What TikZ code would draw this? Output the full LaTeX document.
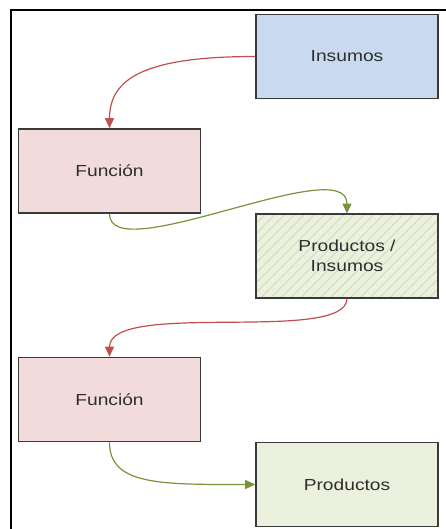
\documentclass[tikz,border=0pt]{standalone}
\usepackage{fontspec}
\setmainfont{Liberation Sans}
\usetikzlibrary{arrows.meta,patterns.meta,calc}

\definecolor{boxline}{HTML}{3A3A3A}
\definecolor{bluefill}{HTML}{C9DAF0}
\definecolor{pinkfill}{HTML}{F2DCDB}
\definecolor{greenfill}{HTML}{EBF1DE}
\definecolor{hatchgreen}{HTML}{CFDBB8}
\definecolor{redarrow}{HTML}{C0504D}
\definecolor{greenarrow}{HTML}{77933C}
\definecolor{labeltext}{HTML}{2E2E2E}

\newcommand{\widetext}[1]{\scalebox{1.2}[1]{#1}}

\tikzset{
  blockbox/.style={draw=boxline, line width=1.6pt, rectangle,
    minimum width=182pt, minimum height=84pt, inner sep=0pt,
    text=labeltext, align=center, font=\fontsize{16}{21}\selectfont},
  inputbox/.style={blockbox, fill=bluefill},
  funcbox/.style={blockbox, fill=pinkfill},
  outbox/.style={blockbox, fill=greenfill},
  mixedbox/.style={blockbox, preaction={fill=greenfill},
    pattern={Lines[angle=45,distance=7pt,line width=0.9pt]},
    pattern color=hatchgreen},
  flowred/.style={draw=redarrow, line width=1.2pt,
    -{Triangle[length=10pt,width=9pt,fill=redarrow]}},
  flowgreen/.style={draw=greenarrow, line width=1.2pt,
    -{Triangle[length=10pt,width=9pt,fill=greenarrow]}},
}

\begin{document}
\begin{tikzpicture}[x=1pt,y=-1pt]
  \useasboundingbox (0,0) rectangle (445,529);

  % outer frame (runs past the right and bottom edges)
  \draw[line width=2.5pt, black] (11,540) -- (11,10) -- (460,10);

  % blocks
  \node[inputbox] (ins1) at (347,56.5) {\widetext{Insumos}};
  \node[funcbox]  (fun1) at (109.5,171) {\widetext{Función}};
  \node[mixedbox] (mix)  at (347,256) {\widetext{Productos /}\\[-1pt]\widetext{Insumos}};
  \node[funcbox]  (fun2) at (109.5,399.5) {\widetext{Función}};
  \node[outbox]   (out)  at (347,484.5) {\widetext{Productos}};

  % connectors
  \draw[flowred] (ins1.west)
    .. controls ($(ins1.west)+(-110,0)$) and ($(fun1.north)+(0,-50)$) .. (fun1.north);
  \draw[flowgreen] (fun1.south)
    .. controls ($(fun1.south)+(0,56)$) and ($(mix.north)+(0,-63)$) .. (mix.north);
  \draw[flowred] (mix.south)
    .. controls ($(mix.south)+(0,46)$) and ($(fun2.north)+(0,-57)$) .. (fun2.north);
  \draw[flowgreen] (fun2.south)
    .. controls ($(fun2.south)+(0,43)$) and ($(out.west)+(-95,0)$) .. (out.west);
\end{tikzpicture}
\end{document}
